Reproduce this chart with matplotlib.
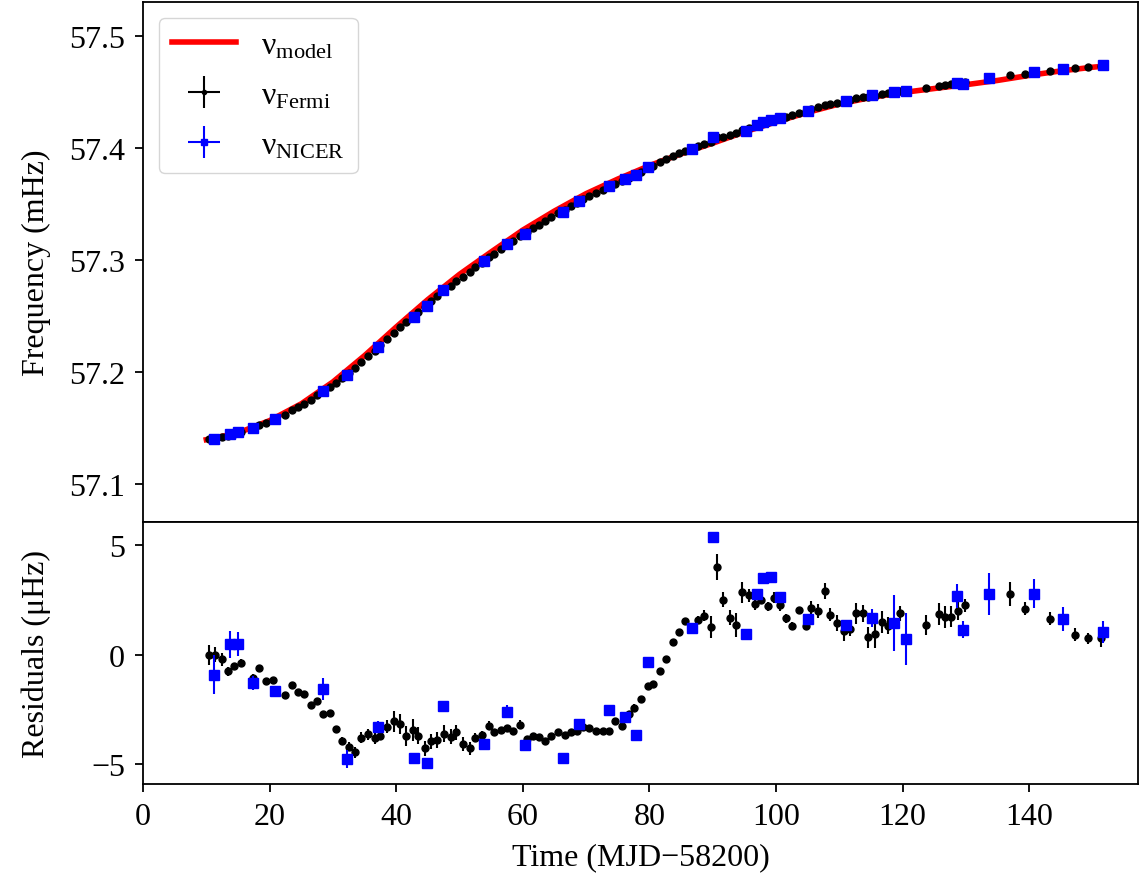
import matplotlib
matplotlib.use('Agg')
import matplotlib.pyplot as plt
import numpy as np

plt.rcParams['font.family'] = ['Liberation Serif', 'DejaVu Serif']
plt.rcParams['mathtext.fontset'] = 'custom'
plt.rcParams['mathtext.rm'] = 'Liberation Serif'
plt.rcParams['mathtext.it'] = 'Liberation Serif:italic'
plt.rcParams['font.size'] = 23
plt.rcParams['axes.linewidth'] = 1.3

# timing model (mHz)
model_t = [10, 15, 20, 25, 30, 35, 40, 45, 50, 55, 60, 65, 70, 75, 80, 85, 90,
           95, 100, 105, 110, 115, 120, 125, 130, 135, 140, 145, 150, 152]
model_nu = [57.1395, 57.1455, 57.1565, 57.1715, 57.1910, 57.2145, 57.2400,
            57.2645, 57.2870, 57.3070, 57.3265, 57.3435, 57.3590, 57.3720,
            57.3840, 57.3945, 57.4040, 57.4140, 57.4230, 57.4315, 57.4390,
            57.4448, 57.4492, 57.4528, 57.4562, 57.4600, 57.4645, 57.4685,
            57.4718, 57.4728]

# Fermi residuals (uHz)
fermi_t = [10.4, 11.3, 12.4, 13.4, 14.4, 15.4, 17.4, 18.4, 19.4, 20.5, 22.4, 23.5,
           24.5, 25.4, 26.5, 27.5, 28.4, 29.5, 30.5, 31.5, 32.6, 33.5, 34.5, 35.6,
           36.6, 37.5, 38.6, 39.6, 40.6, 41.6, 42.6, 43.5, 44.5, 45.5, 46.5, 47.5,
           48.6, 49.5, 50.5, 51.6, 52.5, 53.5, 54.6, 55.5, 56.5, 57.5, 58.5, 59.5,
           60.6, 61.6, 62.5, 63.5, 64.5, 65.5, 66.6, 67.6, 68.5, 69.5, 70.5, 71.5,
           72.6, 73.6, 74.6, 75.6, 76.7, 77.6, 78.6, 79.7, 80.6, 81.7, 82.7, 83.7,
           84.7, 85.7, 87.7, 88.7, 89.8, 90.7, 91.7, 92.8, 93.7, 94.6, 95.7, 96.7,
           97.7, 98.7, 99.7, 100.7, 101.6, 102.6, 103.7, 104.7, 105.6, 106.7, 107.7,
           108.6, 109.7, 110.7, 111.7, 112.6, 113.7, 114.6, 115.7, 116.7, 117.7,
           119.6, 123.7, 125.7, 126.7, 127.7, 128.8, 129.8, 136.9, 139.3, 143.3,
           147.3, 149.3, 151.4]
fermi_res = [0.0, 0.0, -0.2, -0.76, -0.52, -0.36, -1.08, -0.61, -1.19, -1.17, -1.83,
             -1.37, -1.72, -1.78, -2.28, -2.1, -2.73, -2.67, -3.4, -3.93, -4.2, -4.46,
             -3.79, -3.63, -3.79, -3.7, -3.28, -3.05, -3.15, -3.7, -3.44, -3.7, -4.27,
             -3.95, -3.9, -3.6, -3.75, -3.55, -4.08, -4.28, -3.79, -3.67, -3.24, -3.55,
             -3.44, -3.37, -3.5, -3.2, -3.85, -3.73, -3.78, -3.95, -3.73, -3.55, -3.66,
             -3.55, -3.5, -3.32, -3.35, -3.5, -3.47, -3.5, -3.05, -3.24, -2.71, -2.42,
             -2.03, -1.42, -1.32, -0.75, -0.21, 0.58, 1.02, 1.54, 1.59, 1.78, 1.28,
             4.03, 2.52, 1.69, 1.36, 2.85, 2.73, 2.32, 2.52, 2.21, 2.61, 2.27, 1.66,
             1.33, 2.04, 1.33, 2.15, 2.0, 2.91, 1.83, 1.45, 1.08, 1.18, 1.89, 1.89,
             0.79, 0.93, 1.48, 1.33, 1.89, 1.36, 1.86, 1.71, 1.75, 2.01, 2.27, 2.76,
             2.11, 1.65, 0.92, 0.76, 0.76]
fermi_err = [0.45, 0.35, 0.3, 0.2, 0.15, 0.15, 0.2, 0.12, 0.12, 0.12, 0.12, 0.12,
             0.12, 0.12, 0.12, 0.12, 0.15, 0.15, 0.15, 0.15, 0.2, 0.25, 0.25, 0.25,
             0.3, 0.2, 0.3, 0.5, 0.45, 0.45, 0.5, 0.4, 0.35, 0.35, 0.35, 0.4,
             0.35, 0.35, 0.3, 0.3, 0.2, 0.2, 0.2, 0.15, 0.15, 0.15, 0.15, 0.2,
             0.15, 0.15, 0.15, 0.15, 0.15, 0.15, 0.15, 0.15, 0.15, 0.15, 0.12, 0.12,
             0.12, 0.12, 0.15, 0.15, 0.15, 0.15, 0.12, 0.12, 0.12, 0.12, 0.12, 0.12,
             0.15, 0.15, 0.2, 0.25, 0.5, 0.6, 0.35, 0.35, 0.55, 0.5, 0.3, 0.25,
             0.2, 0.2, 0.25, 0.25, 0.2, 0.15, 0.15, 0.2, 0.3, 0.3, 0.35,
             0.3, 0.35, 0.45, 0.3, 0.5, 0.4, 0.5, 0.6, 0.5, 0.4,
             0.35, 0.45, 0.5, 0.5, 0.5, 0.4, 0.3, 0.55, 0.3, 0.3,
             0.3, 0.25, 0.4]

# NICER residuals (uHz)
nicer_t = [11.2, 13.7, 15.0, 17.4, 20.9, 28.4, 32.3, 37.1, 42.8, 44.9, 47.4, 53.9,
           57.5, 60.3, 66.3, 68.9, 73.6, 76.2, 77.9, 79.8, 86.7, 90.1, 95.2, 97.0,
           97.9, 99.2, 100.7, 105.0, 111.0, 115.2, 118.6, 120.5, 128.6, 129.6,
           133.7, 140.8, 145.4, 151.6]
nicer_res = [-0.91, 0.47, 0.5, -1.29, -1.67, -1.57, -4.77, -3.28, -4.72, -4.94, -2.36,
             -4.08, -2.6, -4.11, -4.72, -3.17, -2.51, -2.83, -3.67, -0.35, 1.21, 5.37,
             0.93, 2.76, 3.51, 3.55, 2.62, 1.63, 1.36, 1.69, 1.46, 0.72, 2.7, 1.15,
             2.79, 2.79, 1.63, 1.05]
nicer_err = [0.88, 0.6, 0.55, 0.3, 0.12, 0.5, 0.4, 0.25, 0.1, 0.1, 0.1, 0.1,
             0.3, 0.15, 0.1, 0.1, 0.1, 0.15, 0.1, 0.1, 0.1, 0.1, 0.1, 0.15,
             0.1, 0.1, 0.15, 0.15, 0.2, 0.4, 1.27, 1.2, 0.55, 0.4,
             0.95, 0.67, 0.55, 0.5]

# time bin half-width (days)
t_halfwidth = 0.1

fermi_nu = np.interp(fermi_t, model_t, model_nu) + np.array(fermi_res) * 1e-3
nicer_nu = np.interp(nicer_t, model_t, model_nu) + np.array(nicer_res) * 1e-3

fig = plt.figure(figsize=(11.47, 8.79), dpi=100)
gs = fig.add_gridspec(2, 1, height_ratios=[520, 262], hspace=0,
                      left=0.1247, right=0.9922, top=0.9966, bottom=0.1069)
ax1 = fig.add_subplot(gs[0])
ax2 = fig.add_subplot(gs[1], sharex=ax1)

ax1.plot(model_t, model_nu, color='red', lw=4, label=r'ν$_{\rm model}$', zorder=1)
ax1.errorbar(fermi_t, fermi_nu, xerr=t_halfwidth, yerr=np.array(fermi_err) * 1e-3,
             fmt='o', color='black', ms=5, elinewidth=1.5, capsize=0,
             label=r'ν$_{\rm Fermi}$', zorder=2)
ax1.errorbar(nicer_t, nicer_nu, xerr=t_halfwidth, yerr=np.array(nicer_err) * 1e-3,
             fmt='s', color='blue', ms=7.5, elinewidth=1.5, capsize=0,
             label=r'ν$_{\rm NICER}$', zorder=3)
ax1.set_ylim(57.066, 57.530)
ax1.set_yticks([57.1, 57.2, 57.3, 57.4, 57.5])
ax1.set_ylabel('Frequency (mHz)')
ax1.tick_params(axis='x', bottom=False, labelbottom=False)
ax1.legend(loc='upper left', markerscale=0.6, labelspacing=0.65)

ax2.errorbar(fermi_t, fermi_res, yerr=fermi_err, fmt='o', color='black', ms=5,
             elinewidth=1.5, capsize=0, zorder=2)
ax2.errorbar(nicer_t, nicer_res, yerr=nicer_err, fmt='s', color='blue', ms=7.5,
             elinewidth=1.5, capsize=0, zorder=3)
ax2.set_ylim(-5.91, 6.07)
ax2.set_yticks([-5, 0, 5])
ax2.set_xlim(0, 157.2)
ax2.set_xticks(np.arange(0, 141, 20))
ax2.set_ylabel('Residuals (μHz)')
ax2.set_xlabel('Time (MJD−58200)', labelpad=8)

for ax in (ax1, ax2):
    ax.tick_params(length=6, width=1.3, pad=7)
    ax.yaxis.set_label_coords(-0.092, 0.5)

fig.savefig('out.png', dpi=100)
